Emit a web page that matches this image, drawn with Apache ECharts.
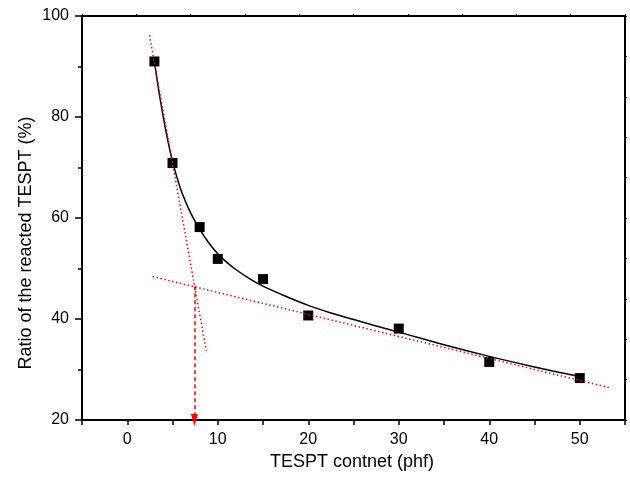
<!DOCTYPE html>
<html>
<head>
<meta charset="utf-8">
<script src="https://cdn.jsdelivr.net/npm/echarts@6/dist/echarts.min.js"></script>
<style>
html,body{margin:0;padding:0;background:#fff;}
#main{width:630px;height:477px;}
</style>
</head>
<body>
<div id="main"></div>
<script>
// measured points
var contentPhf = [3, 5, 8, 10, 15, 20, 30, 40, 50];
var reactedRatio = [91.0, 70.9, 58.2, 51.9, 47.9, 40.7, 38.1, 31.5, 28.3];

// fitted curve
var fitX = [3, 3.5, 4, 4.5, 5, 5.5, 6, 7, 8, 9, 10, 11, 12, 13.5, 15, 17.5, 20, 22.5, 25, 27.5, 30, 35, 40, 45, 50];
var fitY = [91.0, 85.0, 79.8, 75.2, 71.2, 68.0, 65.2, 61.0, 57.8, 55.1, 52.9, 51.2, 49.8, 48.0, 46.5, 44.5, 42.7, 41.2, 39.9, 38.6, 37.4, 34.9, 32.6, 30.5, 28.6];

// dotted tangent lines
var steepX = [2.45, 8.73];
var steepY = [96.2, 33.7];
var flatX = [2.8, 53.3];
var flatY = [48.4, 26.4];

// arrow from intersection down to axis
var arrowX = 7.42;
var arrowFromY = 46.5;
var arrowToY = 20;

var xTickLabels = [0, 10, 20, 30, 40, 50];
var yTickLabels = [20, 40, 60, 80, 100];

function pairs(xs, ys){
    var out = [];
    for (var i = 0; i < xs.length; i++) out.push([xs[i], ys[i]]);
    return out;
}

var font = '"Liberation Sans", Arial, sans-serif';
var myChart = echarts.init(document.getElementById('main'));
var option = {
    animation: false,
    backgroundColor: '#fff',
    grid: {left: 82, right: 5, top: 16, bottom: 57},
    xAxis: [
        {
            type: 'value', position: 'bottom',
            min: -5, max: 55, interval: 5,
            axisLine: {show: true, onZero: false, lineStyle: {color: '#000', width: 2}},
            axisTick: {show: true, length: 5, lineStyle: {color: '#000', width: 1.5}},
            axisLabel: {
                margin: 12, color: '#000', fontSize: 16, fontFamily: font,
                formatter: function(v){ return xTickLabels.indexOf(v) >= 0 ? String(v) : ''; }
            },
            splitLine: {show: false}
        },
        {
            type: 'value', position: 'top',
            min: 0, max: 10, interval: 1,
            axisLine: {show: true, onZero: false, lineStyle: {color: '#000', width: 2}},
            axisTick: {show: true, length: 2, lineStyle: {color: '#000'}},
            axisLabel: {show: false},
            splitLine: {show: false}
        }
    ],
    yAxis: [
        {
            type: 'value', position: 'left',
            min: 20, max: 100, interval: 20,
            axisLine: {show: true, onZero: false, lineStyle: {color: '#000', width: 2}},
            axisTick: {show: true, length: 7, lineStyle: {color: '#000', width: 1.5}},
            minorTick: {show: true, splitNumber: 2, length: 4, lineStyle: {color: '#000', width: 1.5}},
            axisLabel: {
                margin: 13, color: '#000', fontSize: 16, fontFamily: font,
                formatter: function(v){ return yTickLabels.indexOf(v) >= 0 ? String(v) : ''; }
            },
            splitLine: {show: false}
        },
        {
            type: 'value', position: 'right',
            min: 0, max: 10, interval: 1,
            axisLine: {show: true, onZero: false, lineStyle: {color: '#000', width: 2}},
            axisTick: {show: true, length: 2, lineStyle: {color: '#000'}},
            axisLabel: {show: false},
            splitLine: {show: false}
        }
    ],
    graphic: [
        {
            type: 'text', x: 352, y: 462,
            style: {text: 'TESPT contnet (phf)', fill: '#000', font: '18px ' + font,
                    align: 'center', verticalAlign: 'middle'}
        },
        {
            type: 'text', x: 26, y: 243, rotation: Math.PI / 2,
            style: {text: 'Ratio of the reacted TESPT (%)', fill: '#000', font: '18px ' + font,
                    align: 'center', verticalAlign: 'middle'}
        }
    ],
    series: [
        {
            type: 'scatter', data: pairs(contentPhf, reactedRatio),
            symbol: 'rect', symbolSize: 10,
            itemStyle: {color: '#000', opacity: 1}, z: 2
        },
        {
            type: 'line', data: pairs(fitX, fitY), smooth: 0.3,
            showSymbol: false, symbol: 'none',
            lineStyle: {color: '#000', width: 1.5}, z: 3
        },
        {
            type: 'line', data: pairs(steepX, steepY),
            showSymbol: false, symbol: 'none',
            lineStyle: {color: '#ff0000', width: 1.5, type: [1.5, 2.5]}, z: 4
        },
        {
            type: 'line', data: pairs(flatX, flatY),
            showSymbol: false, symbol: 'none',
            lineStyle: {color: '#ff0000', width: 1.5, type: [1.5, 2.5]}, z: 4,
            markLine: {
                silent: true, symbol: ['none', 'triangle'], symbolSize: [7, 12], symbolRotate: 180,
                label: {show: false},
                lineStyle: {color: '#ff0000', width: 1.5, type: [4, 3]},
                data: [[{coord: [arrowX, arrowFromY]}, {coord: [arrowX, arrowToY]}]]
            }
        }
    ]
};
myChart.setOption(option);
</script>
</body>
</html>
